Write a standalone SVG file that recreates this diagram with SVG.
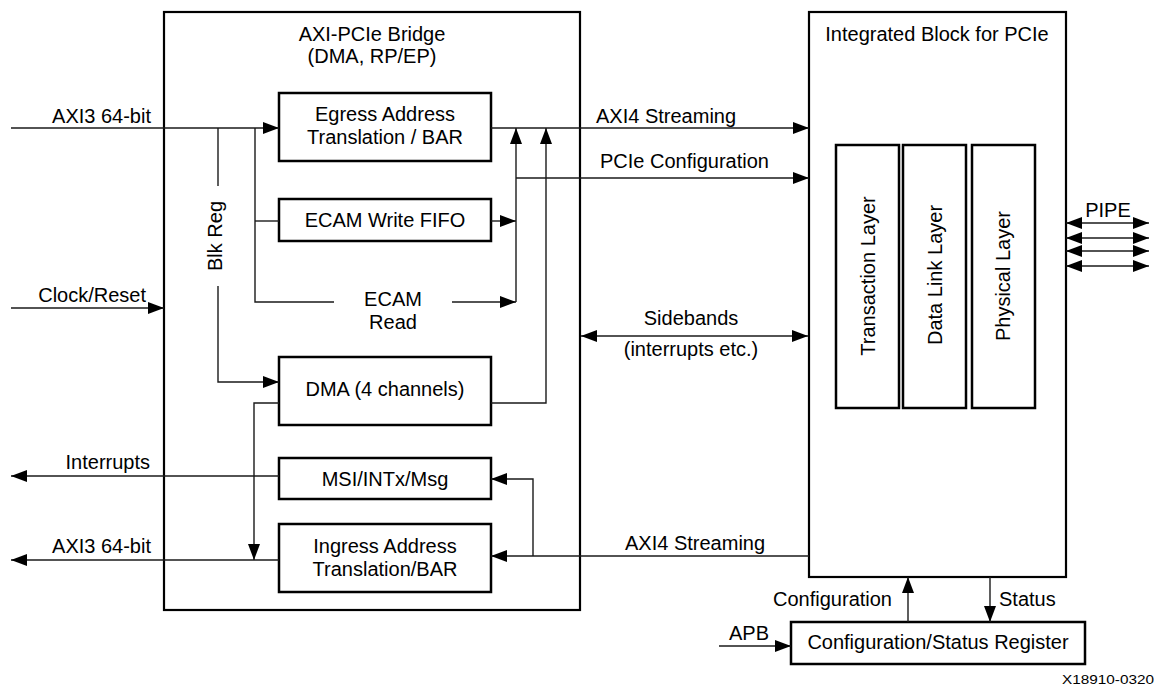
<svg xmlns="http://www.w3.org/2000/svg" width="1154" height="689" viewBox="0 0 1154 689">
<style>
text{font-family:"Liberation Sans",Arial,sans-serif;font-size:20px;fill:#000}
.m{text-anchor:middle}
.e{text-anchor:end}
.box{fill:#fff;stroke:#000;stroke-width:2.5}
.big{fill:none;stroke:#000;stroke-width:2.2}
.ln{fill:none;stroke:#1a1a1a;stroke-width:1.4}
.a{marker-end:url(#ah)}
.d{marker-end:url(#ah);marker-start:url(#ah)}
</style>
<defs>
<marker id="ah" markerUnits="userSpaceOnUse" markerWidth="16" markerHeight="12" refX="16" refY="6" orient="auto-start-reverse" viewBox="0 0 16 12">
<path d="M0,0 L16,6 L0,12 z" fill="#000"/>
</marker>
</defs>
<rect width="1154" height="689" fill="#fff"/>

<g id="bridge">
<rect class="big" x="164" y="12" width="416" height="598"/>
<text class="m" x="372" y="41">AXI-PCIe Bridge</text>
<text class="m" x="372" y="63">(DMA, RP/EP)</text>
</g>
<g id="integrated">
<rect class="big" x="809" y="12" width="257" height="565"/>
<text class="m" x="937" y="41">Integrated Block for PCIe</text>
</g>
<g id="transaction">
<rect class="box" x="836" y="145" width="63" height="263"/>
<text class="m" transform="translate(867.5,276) rotate(-90)" x="0" y="7">Transaction Layer</text>
</g>
<g id="datalink">
<rect class="box" x="903" y="145" width="63" height="263"/>
<text class="m" transform="translate(934.5,275) rotate(-90)" x="0" y="7">Data Link Layer</text>
</g>
<g id="physical">
<rect class="box" x="972" y="145" width="63" height="263"/>
<text class="m" transform="translate(1002.5,276) rotate(-90)" x="0" y="7">Physical Layer</text>
</g>
<g id="egress">
<rect class="box" x="279" y="93" width="212" height="68"/>
<text class="m" x="385" y="121">Egress Address</text>
<text class="m" x="385" y="144">Translation / BAR</text>
</g>
<g id="ecamwrite">
<rect class="box" x="279" y="199" width="212" height="42"/>
<text class="m" x="385" y="227">ECAM Write FIFO</text>
</g>
<g id="dma">
<rect class="box" x="279" y="357" width="212" height="68"/>
<text class="m" x="385" y="396">DMA (4 channels)</text>
</g>
<g id="msi">
<rect class="box" x="279" y="458" width="212" height="41"/>
<text class="m" x="385" y="486">MSI/INTx/Msg</text>
</g>
<g id="ingress">
<rect class="box" x="279" y="524" width="212" height="68"/>
<text class="m" x="385" y="553">Ingress Address</text>
<text class="m" x="385" y="576">Translation/BAR</text>
</g>
<g id="csr">
<rect class="box" x="791" y="622" width="294" height="42"/>
<text class="m" x="938" y="649">Configuration/Status Register</text>
</g>

<g id="connectors">
<path class="ln a" d="M11,128 H279"/>
<path class="ln" d="M218,128 V186"/>
<path class="ln a" d="M218,286 V382 H279"/>
<path class="ln" d="M255,128 V302 H334"/>
<path class="ln" d="M255,221 H279"/>
<path class="ln a" d="M452,302 H516"/>
<path class="ln a" d="M491,221 H516"/>
<path class="ln a" d="M516,302 V128"/>
<path class="ln a" d="M516,178 H809"/>
<path class="ln a" d="M491,403 H546 V128"/>
<path class="ln a" d="M491,128 H809"/>
<path class="ln a" d="M11,308 H164"/>
<path class="ln d" d="M581,336 H808"/>
<path class="ln a" d="M279,403 H254 V560"/>
<path class="ln a" d="M279,476 H11"/>
<path class="ln a" d="M279,560 H11"/>
<path class="ln a" d="M809,556 H491"/>
<path class="ln a" d="M533,556 V479 H491"/>
<path class="ln a" d="M908,622 V577"/>
<path class="ln a" d="M990,577 V622"/>
<path class="ln a" d="M719,646 H791"/>
<path class="ln d" d="M1066,223 H1149"/>
<path class="ln d" d="M1066,238 H1149"/>
<path class="ln d" d="M1066,251 H1149"/>
<path class="ln d" d="M1066,266 H1149"/>
</g>

<g id="labels">
<text class="e" x="151" y="123">AXI3 64-bit</text>
<text class="e" x="146" y="302">Clock/Reset</text>
<text class="e" x="150" y="469">Interrupts</text>
<text class="e" x="151" y="553">AXI3 64-bit</text>
<text class="m" transform="translate(215,236) rotate(-90)" x="0" y="7">Blk Reg</text>
<text class="m" x="393" y="306">ECAM</text>
<text class="m" x="393" y="329">Read</text>
<text x="596" y="123">AXI4 Streaming</text>
<text x="600" y="168">PCIe Configuration</text>
<text class="m" x="691" y="325">Sidebands</text>
<text class="m" x="691" y="356">(interrupts etc.)</text>
<text x="625" y="550">AXI4 Streaming</text>
<text class="e" x="892" y="606">Configuration</text>
<text x="999" y="606">Status</text>
<text x="729" y="640">APB</text>
<text class="m" x="1108" y="217">PIPE</text>
<text x="1062" y="684" style="font-size:12.5px" textLength="92" lengthAdjust="spacingAndGlyphs">X18910-0320</text>
</g>
</svg>
